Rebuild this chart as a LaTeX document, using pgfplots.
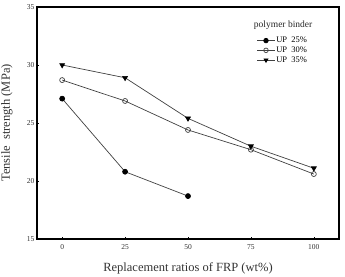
\documentclass[border=0pt]{standalone}
\usepackage{fontspec}
\setmainfont{Liberation Serif}
\usepackage{pgfplots}
\pgfplotsset{compat=1.18}

\begin{document}
\begin{tikzpicture}
\begin{axis}[
  at={(0pt,0pt)}, anchor=south west,
  scale only axis,
  width=302pt, height=232pt,
  xmin=-10, xmax=110,
  ymin=15, ymax=35,
  xtick={0,25,50,75,100},
  ytick={15,20,25,30,35},
  tick align=inside,
  xtick pos=bottom, ytick pos=left,
  major tick length=2.5pt,
  tick style={line width=0.5pt, black},
  axis line style={line width=1.4pt},
  /pgf/number format/assume math mode=true,
  ticklabel style={font=\fontsize{7.5}{8}\selectfont, color=black!80},
  xticklabel style={yshift=-2pt},
  yticklabel style={xshift=1pt},
  xlabel={Replacement ratios of FRP (wt\%)},
  ylabel={Tensile\ \ strength (MPa)},
  label style={font=\fontsize{12.5}{13}\selectfont, color=black!80},
  xlabel style={at={(axis description cs:0.5,-0.128)}, anchor=center},
  ylabel style={at={(axis description cs:-0.0993,0.5)}, anchor=center},
  every axis plot/.append style={line width=0.7pt, color=black!75},
  legend style={draw=none, fill=none, at={(rel axis cs:0.725,0.878)}, anchor=north west,
    font=\fontsize{8.5}{9}\selectfont, row sep=0.6pt, inner sep=0.5pt,
    nodes={inner sep=1pt}},
  legend cell align=left,
  legend image code/.code={%
    \draw[mark repeat=2, mark phase=2, mark size=2.3pt]
      plot coordinates {(0pt,0pt) (9pt,0pt) (18pt,0pt)};},
]
\addplot[mark=*, mark size=2.5pt, mark options={fill=black, draw=black}]
  coordinates {(0,27.1) (25,20.8) (50,18.7)};
\addlegendentry{UP\ \ 25\%}
\addplot[mark=o, mark size=2.5pt, mark options={fill=white, draw=black!75}]
  coordinates {(0,28.7) (25,26.9) (50,24.4) (75,22.7) (100,20.6)};
\addlegendentry{UP\ \ 30\%}
\addplot[mark=triangle*, mark size=2.8pt, mark options={rotate=180, fill=black, draw=black}]
  coordinates {(0,30.0) (25,28.9) (50,25.4) (75,23.0) (100,21.1)};
\addlegendentry{UP\ \ 35\%}
\node[font=\fontsize{9.5}{10}\selectfont, color=black!85] at (rel axis cs:0.815,0.922) {polymer binder};
\end{axis}
% fixed frame around the axis and its labels
\pgfresetboundingbox
\path[use as bounding box] (-37pt,-37pt) rectangle (308pt,239pt);
\end{tikzpicture}
\end{document}
